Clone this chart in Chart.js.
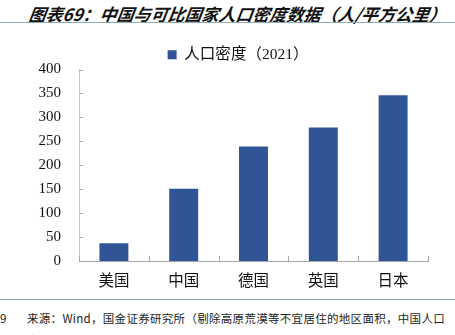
<!DOCTYPE html>
<html>
<head>
<meta charset="utf-8">
<script src="https://cdn.jsdelivr.net/npm/chart.js@4"></script>
<style>
  html, body { margin: 0; padding: 0; background: #fff; overflow: hidden; }
  body { width: 455px; height: 335px; position: relative; }
  #title {
    position: absolute; left: 29px; top: 1px; white-space: nowrap;
    font: italic bold 17px "Noto Sans CJK SC", sans-serif; color: #111;
    transform: skewX(-8deg);
  }
  .rule { position: absolute; left: 0; width: 455px; height: 1px; background: #8ea9b8; }
  #chartBox { position: absolute; left: 0; top: 26px; width: 455px; height: 270px; }
  #note {
    position: absolute; left: 0; top: 307px; width: 455px;
    font: 11.5px "Noto Sans CJK SC", sans-serif; color: #222; line-height: 22px;
  }
  #note .num { position: absolute; left: 0; top: 0; }
  #note .txt { position: absolute; left: 27px; top: 0; white-space: nowrap; letter-spacing: 0.3px; }
</style>
</head>
<body>
<div id="title">图表69：中国与可比国家人口密度数据（人/平方公里）</div>
<div class="rule" style="top:22px"></div>
<div id="chartBox"><canvas id="densityChart" width="455" height="270"></canvas></div>
<div class="rule" style="top:299px"></div>
<div id="note"><span class="num">9</span><span class="txt">来源：Wind，国金证券研究所（剔除高原荒漠等不宜居住的地区面积，中国人口<br>密度实际会更高）</span></div>
<script>
const countries = ["美国", "中国", "德国", "英国", "日本"];
const density2021 = [37, 151, 239, 279, 346];
const yTicks = [0, 50, 100, 150, 200, 250, 300, 350, 400];

// small inward tick marks on both axes
const innerTicks = {
  id: "innerTicks",
  afterDraw(chart) {
    const ctx = chart.ctx;
    const x = chart.scales.x, y = chart.scales.y;
    ctx.save();
    ctx.strokeStyle = "#a6a6a6";
    ctx.lineWidth = 1;
    ctx.beginPath();
    yTicks.forEach(v => {
      const py = Math.round(y.getPixelForValue(v)) + 0.5;
      ctx.moveTo(x.left, py);
      ctx.lineTo(x.left + 4, py);
    });
    for (let i = 0; i <= countries.length; i++) {
      const px = Math.round(x.left + (x.right - x.left) * i / countries.length) + 0.5;
      ctx.moveTo(px, y.bottom);
      ctx.lineTo(px, y.bottom - 5);
    }
    ctx.stroke();
    ctx.restore();
  }
};

// legend sits a little right of centre and lower in the original
const nudgeLegend = {
  id: "nudgeLegend",
  afterLayout(chart) {
    const lg = chart.legend;
    lg.left += 24; lg.right += 24;
    lg.top += 3; lg.bottom += 3;
  }
};

new Chart(document.getElementById("densityChart"), {
  type: "bar",
  data: {
    labels: countries,
    datasets: [{
      label: "人口密度（2021）",
      data: density2021,
      backgroundColor: "#2f5597",
      borderWidth: 0,
      categoryPercentage: 1,
      barPercentage: 0.415
    }]
  },
  options: {
    responsive: false,
    animation: false,
    layout: { padding: { top: 8, right: 27, left: 0, bottom: 0 } },
    plugins: {
      legend: {
        labels: {
          boxWidth: 9, boxHeight: 9, color: "#111",
          font: { family: "'Liberation Serif', 'Noto Sans CJK SC'", size: 15.5 }
        }
      },
      tooltip: { enabled: false }
    },
    scales: {
      x: {
        grid: { display: false, drawTicks: false },
        border: { color: "#a6a6a6" },
        ticks: { padding: 10, color: "#111", font: { family: "'Noto Sans CJK SC'", size: 15.5 } },
        afterFit: s => { s.height = 35; }
      },
      y: {
        min: 0, max: 400,
        afterBuildTicks: s => { s.ticks = yTicks.map(v => ({ value: v })); },
        grid: { display: false, drawTicks: false },
        border: { color: "#c8c8c8" },
        ticks: { padding: 18, color: "#111", font: { family: "'Liberation Serif'", size: 15 } },
        afterFit: s => { s.width = 79; }
      }
    }
  },
  plugins: [innerTicks, nudgeLegend]
});
</script>
</body>
</html>
